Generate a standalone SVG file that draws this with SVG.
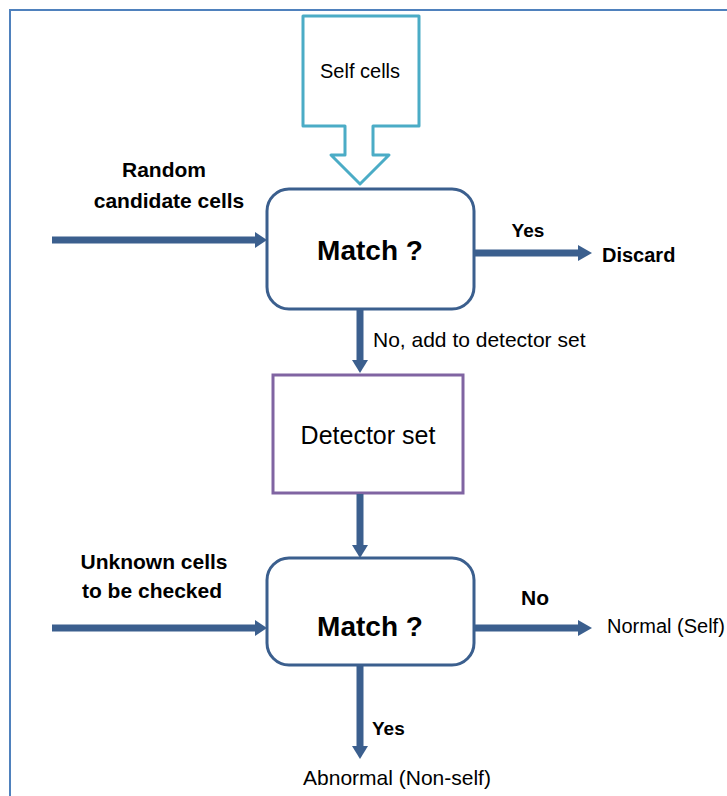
<svg xmlns="http://www.w3.org/2000/svg" width="727" height="796" viewBox="0 0 727 796">
<style>
.t{font-family:"Liberation Sans",Arial,sans-serif;fill:#000}
.b{font-weight:bold}
.ln{stroke:#3B5F8E;stroke-width:7;fill:none}
.hd{fill:#3B5F8E}
.mb{fill:#fff;stroke:#3B5F8E;stroke-width:3}
</style>
<rect width="727" height="796" fill="#fff"/>
<path d="M10,796 V10 H727" fill="none" stroke="#4F81BD" stroke-width="2"/>
<g id="self-cells">
<path d="M303,16 H419 V126 H373 V155 H389 L360,184 L331,155 H345 V126 H303 Z" fill="#fff" stroke="#4BACC6" stroke-width="3" stroke-linejoin="round"/>
<text class="t" x="360" y="78" font-size="20" text-anchor="middle">Self cells</text>
</g>
<g id="match1">
<rect class="mb" x="267" y="189" width="207" height="120" rx="22"/>
<text class="t b" x="370" y="260" font-size="28" text-anchor="middle">Match ?</text>
</g>
<g id="detector">
<rect x="273" y="375" width="190" height="118" fill="#fff" stroke="#8064A2" stroke-width="3"/>
<text class="t" x="368" y="444" font-size="25" text-anchor="middle">Detector set</text>
</g>
<g id="match2">
<rect class="mb" x="267" y="558" width="207" height="107" rx="22"/>
<text class="t b" x="370" y="636" font-size="28" text-anchor="middle">Match ?</text>
</g>
<g id="connectors">
<line class="ln" x1="52" y1="240" x2="257" y2="240"/>
<polygon class="hd" points="255,232 267,240 255,248"/>
<line class="ln" x1="475" y1="253" x2="580" y2="253"/>
<polygon class="hd" points="578,245 592,253 578,261"/>
<line class="ln" x1="360" y1="310" x2="360" y2="362"/>
<polygon class="hd" points="352,360 360,373 368,360"/>
<line class="ln" x1="360" y1="494" x2="360" y2="547"/>
<polygon class="hd" points="352,545 360,558 368,545"/>
<line class="ln" x1="52" y1="628" x2="257" y2="628"/>
<polygon class="hd" points="255,620 267,628 255,636"/>
<line class="ln" x1="475" y1="628" x2="580" y2="628"/>
<polygon class="hd" points="578,620 592,628 578,636"/>
<line class="ln" x1="360" y1="666" x2="360" y2="748"/>
<polygon class="hd" points="352,746 360,759 368,746"/>
</g>
<g id="labels">
<text class="t b" x="164" y="177" font-size="21" text-anchor="middle">Random</text>
<text class="t b" x="169" y="208" font-size="21" text-anchor="middle">candidate cells</text>
<text class="t b" x="528" y="237" font-size="19" text-anchor="middle">Yes</text>
<text class="t b" x="602" y="262" font-size="20">Discard</text>
<text class="t" x="373" y="347" font-size="21">No, add to detector set</text>
<text class="t b" x="154" y="569" font-size="21" text-anchor="middle">Unknown cells</text>
<text class="t b" x="152" y="598" font-size="21" text-anchor="middle">to be checked</text>
<text class="t b" x="535" y="605" font-size="21" text-anchor="middle">No</text>
<text class="t" x="607" y="633" font-size="20">Normal (Self)</text>
<text class="t b" x="372" y="735" font-size="19">Yes</text>
<text class="t" x="397" y="785" font-size="21" text-anchor="middle">Abnormal (Non-self)</text>
</g>
</svg>
